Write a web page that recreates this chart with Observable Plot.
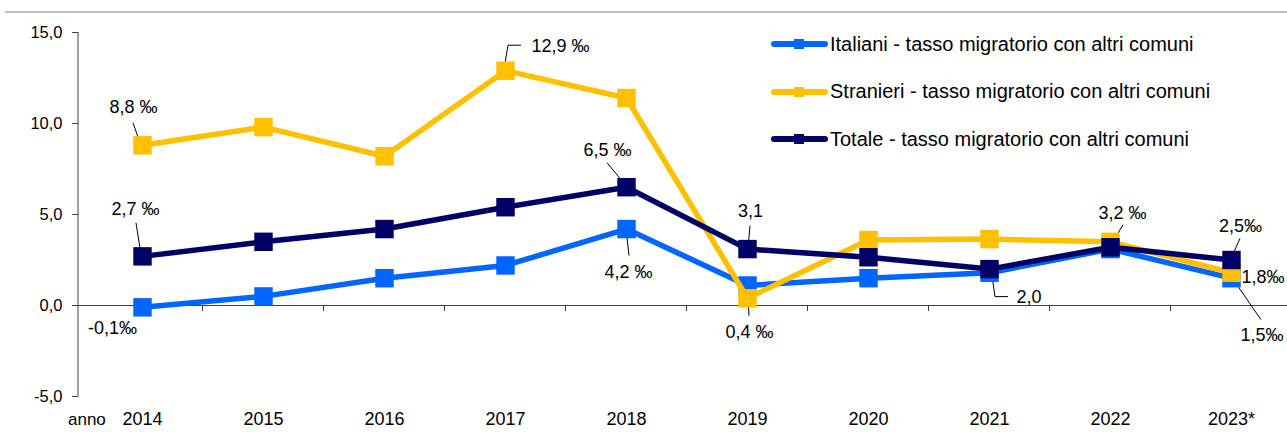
<!DOCTYPE html>
<html>
<head>
<meta charset="utf-8">
<script src="https://cdn.jsdelivr.net/npm/d3@7"></script>
<script src="https://cdn.jsdelivr.net/npm/@observablehq/plot@0.6"></script>
<style>
  html, body { margin: 0; padding: 0; background: #fff; }
  #wrap { position: relative; width: 1287px; height: 432px; overflow: hidden; font-family: "Liberation Sans", Arial, sans-serif; color: #000; }
  #rule { position: absolute; left: 5px; right: 0; top: 11px; height: 2px; background: #bfbfbf; }
  #legend { position: absolute; left: 771px; top: 0; }
  .row { position: absolute; left: 0; height: 24px; display: flex; align-items: center; white-space: nowrap; font-size: 20px; }
  .row svg { display: block; margin-right: 2px; }
  #anno { position: absolute; left: 68px; top: 411px; font-size: 17px; line-height: 18px; }
  #chart svg { overflow: visible; }
</style>
</head>
<body>
<div id="wrap">
  <div id="chart"></div>
  <div id="rule"></div>
  <div id="legend"></div>
  <div id="anno">anno</div>
</div>
<script>
// ---- data ----
const years = ["2014","2015","2016","2017","2018","2019","2020","2021","2022","2023*"];
const italiani  = [-0.1, 0.5, 1.5, 2.2, 4.2, 1.1, 1.5, 1.8, 3.1, 1.5];
const stranieri = [8.8, 9.8, 8.2, 12.9, 11.4, 0.4, 3.6, 3.65, 3.5, 1.8];
const totale    = [2.7, 3.5, 4.2, 5.4, 6.5, 3.1, 2.65, 2.0, 3.2, 2.5];
const seriesNames = [
  "Italiani - tasso migratorio con altri comuni",
  "Stranieri - tasso migratorio con altri comuni",
  "Totale - tasso migratorio con altri comuni"
];
const seriesValues = [italiani, stranieri, totale];
const colors = ["#0066FF", "#FFC000", "#000066"];
const yTicks = [-5, 0, 5, 10, 15];

// data labels: series index, year, text
const labels = [
  {s: 1, year: "2014", text: "8,8 ‰"},
  {s: 1, year: "2017", text: "12,9 ‰"},
  {s: 2, year: "2014", text: "2,7 ‰"},
  {s: 0, year: "2014", text: "-0,1‰"},
  {s: 2, year: "2018", text: "6,5 ‰"},
  {s: 0, year: "2018", text: "4,2 ‰"},
  {s: 2, year: "2019", text: "3,1"},
  {s: 1, year: "2019", text: "0,4 ‰"},
  {s: 2, year: "2021", text: "2,0"},
  {s: 2, year: "2022", text: "3,2 ‰"},
  {s: 2, year: "2023*", text: "2,5‰"},
  {s: 1, year: "2023*", text: "1,8‰"},
  {s: 0, year: "2023*", text: "1,5‰"}
];
// label layout (pixel offsets from the point): text offset, anchor, leader polyline
const labelLayout = [
  {dx: -9, dy: -38, anchor: "middle", lead: [[-9,-22],[-2,-2]]},
  {dx: 26, dy: -24, anchor: "start", lead: [[-1,-1],[3,-25],[16,-25]]},
  {dx: -7, dy: -47, anchor: "middle", lead: [[-6,-33],[-1,-1]]},
  {dx: -30, dy: 21, anchor: "middle", lead: null},
  {dx: -19, dy: -37, anchor: "middle", lead: [[-19,-24],[0,-1]]},
  {dx: 2, dy: 43, anchor: "middle", lead: [[0,1],[3,27]]},
  {dx: 3, dy: -38, anchor: "middle", lead: [[3,-23],[1,0]]},
  {dx: 2, dy: 34, anchor: "middle", lead: [[1,0],[2,18]]},
  {dx: 27, dy: 28, anchor: "start", lead: [[2,0],[6,28],[19,28]]},
  {dx: 12, dy: -34, anchor: "middle", lead: [[13,-22],[0,0]]},
  {dx: 9, dy: -34, anchor: "middle", lead: [[9,-21],[0,-1]]},
  {dx: 10, dy: 4, anchor: "start", lead: null},
  {dx: 9, dy: 57, anchor: "start", lead: [[1,0],[30,42]]}
];

// ---- tidy table ----
const rows = [];
seriesValues.forEach((vals, s) => vals.forEach((v, i) => rows.push({s, name: seriesNames[s], year: years[i], value: v})));
const valueOf = (s, year) => seriesValues[s][years.indexOf(year)];
const labelRows = labels.map((d, i) => ({...d, value: valueOf(d.s, d.year), ...labelLayout[i]}));

const fmt = d => d.toFixed(1).replace(".", ",");

// custom mark: left axis line, category separator ticks, leader lines
function decorations(index, scales, values, dim) {
  const g = d3.create("svg:g");
  const x = scales.x, y = scales.y;
  const step = x(years[1]) - x(years[0]);
  g.append("line").attr("x1", dim.marginLeft).attr("x2", dim.marginLeft)
    .attr("y1", y(15)).attr("y2", y(-5)).attr("stroke", "#404040").attr("stroke-width", 1);
  years.slice(1).forEach(yr => {
    const xx = x(yr) - step / 2;
    g.append("line").attr("x1", xx).attr("x2", xx).attr("y1", y(0)).attr("y2", y(0) + 6)
      .attr("stroke", "#404040").attr("stroke-width", 1);
  });
  labelRows.forEach(d => {
    if (!d.lead) return;
    const px = x(d.year), py = y(d.value);
    g.append("polyline")
      .attr("points", d.lead.map(([a, b]) => `${px + a},${py + b}`).join(" "))
      .attr("fill", "none").attr("stroke", "#000").attr("stroke-width", 1);
  });
  return g.node();
}

const marks = [
  Plot.ruleY([0], {stroke: "#404040", strokeWidth: 1}),
  Plot.axisY({ticks: yTicks, tickFormat: fmt, tickSize: 6, tickPadding: 10, fontSize: 16.5, stroke: "#404040"}),
  Plot.axisX({tickSize: 0, tickPadding: 16, fontSize: 18, anchor: "bottom"}),
  decorations
];
[0, 1, 2].forEach(s => {
  const data = rows.filter(r => r.s === s);
  marks.push(Plot.line(data, {x: "year", y: "value", stroke: colors[s], strokeWidth: 5.5, strokeLinejoin: "miter"}));
  marks.push(Plot.dot(data, {x: "year", y: "value", symbol: "square", r: 10.4, fill: colors[s], stroke: "none"}));
});
labelRows.forEach(d => {
  marks.push(Plot.text([d], {x: "year", y: "value", text: "text", dx: d.dx, dy: d.dy,
    textAnchor: d.anchor, fontSize: 18, fill: "#000"}));
});

const chart = Plot.plot({
  width: 1287,
  height: 432,
  marginLeft: 78,
  marginRight: 0,
  marginTop: 32,
  marginBottom: 36,
  style: {fontFamily: "'Liberation Sans', Arial, sans-serif", color: "#000", background: "transparent", overflow: "visible"},
  x: {type: "point", domain: years, padding: 0.5, range: [78, 1295], label: null},
  y: {domain: [-5, 15], label: null},
  marks
});
document.getElementById("chart").append(chart);

// legend (HTML)
const legend = d3.select("#legend");
seriesNames.forEach((name, s) => {
  const row = legend.append("div").attr("class", "row").style("top", (32 + s * 47.5) + "px");
  const sw = row.append("svg").attr("width", 57).attr("height", 16);
  sw.append("line").attr("x1", 3).attr("x2", 54).attr("y1", 8).attr("y2", 8)
    .attr("stroke", colors[s]).attr("stroke-width", 6).attr("stroke-linecap", "round");
  sw.append("rect").attr("x", 23).attr("y", 3).attr("width", 10).attr("height", 10).attr("fill", colors[s]);
  row.append("span").text(name);
});
</script>
</body>
</html>
